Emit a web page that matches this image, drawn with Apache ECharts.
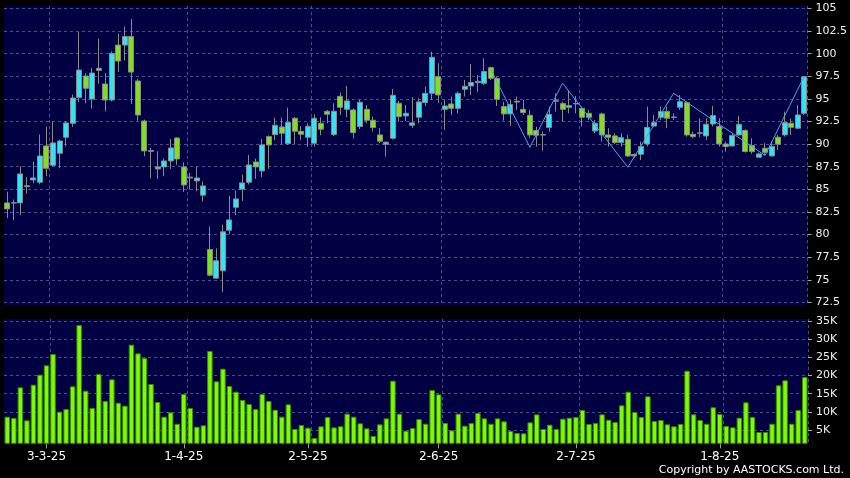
<!DOCTYPE html>
<html>
<head>
<meta charset="utf-8">
<script src="https://cdn.jsdelivr.net/npm/echarts@6/dist/echarts.min.js"></script>
<style>
html,body{margin:0;padding:0;background:#000;}
#c{width:850px;height:478px;}
</style>
</head>
<body>
<div id="c"></div>
<script>
// ---------- data ----------
// HK trading days from 21-2-25 (holidays skipped)
const hkHolidays = ['2025-04-04','2025-04-18','2025-04-21','2025-05-01','2025-05-05','2025-07-01'];
const firstDay = '2025-02-21';
const dayCount = 123;

// [open, close, low, high]
const candles = [
[83.5,82.84,81.81,84.75],[83.48,83.52,81.59,83.87],[83.5,86.7,82.14,87.55],[85.3,85.4,84.53,86.37],[86.04,86.26,85.67,88.03],
[85.78,88.69,85.56,91.05],[89.8,87.33,86.45,91.93],[87.66,90.13,87.55,92.48],[88.99,90.35,87.33,90.5],[90.75,92.34,89.76,92.56],
[92.3,95.1,91.9,95.47],[95.17,98.19,94.62,102.39],[97.53,96.17,94.51,97.86],[94.99,97.86,93.92,98.41],[98.16,98.38,96.68,101.65],
[96.65,94.88,93.63,97.86],[94.88,100.03,94.73,100.25],[100.95,99.19,98.0,102.2],[100.95,101.91,99.26,103.02],[101.91,97.97,94.44,103.83],
[96.98,93.22,92.6,97.2],[92.56,89.25,88.66,92.71],[89.3,89.2,86.23,89.61],[87.48,87.26,86.15,89.21],[87.48,88.14,86.45,88.4],
[88.14,89.58,87.26,90.57],[90.68,88.36,87.7,90.75],[87.48,85.49,84.72,87.99],[86.35,86.25,84.97,86.82],[85.93,86.26,84.79,87.51],
[84.35,85.38,83.65,85.86],[78.35,75.51,75.4,80.89],[75.18,77.1,75.1,78.46],[75.99,80.3,73.63,81.11],[80.48,81.62,80.04,84.31],
[83.02,83.94,82.14,84.86],[85.01,85.71,83.72,86.63],[85.78,87.7,85.53,88.8],[88.03,87.48,86.15,88.4],[87.04,89.91,86.34,90.57],
[90.83,89.91,87.26,90.97],[91.05,92.09,90.46,92.93],[91.9,91.2,89.99,92.93],[90.06,92.42,89.9,94.04],[92.86,91.42,90.02,93.0],
[91.42,91.09,90.46,92.0],[90.76,91.98,89.73,92.31],[90.1,92.86,89.73,93.3],[92.31,91.65,90.98,92.97],[93.63,93.3,92.31,93.78],
[91.05,93.63,90.9,94.52],[95.29,94.07,93.23,95.7],[93.85,94.78,92.97,96.44],[93.78,91.27,90.65,93.96],[91.94,94.63,91.65,94.89],
[93.85,92.64,92.31,94.33],[92.64,91.83,91.39,93.04],[91.02,90.32,90.1,91.79],[89.99,90.21,88.62,90.32],[90.65,95.4,90.5,96.1],
[94.52,93.04,92.49,94.78],[93.12,93.41,92.56,94.33],[92.09,92.35,91.79,95.18],[92.97,94.67,92.31,95.07],[94.59,95.62,94.22,96.36],
[95.62,99.6,94.89,100.23],[97.46,95.44,94.52,98.94],[93.85,94.22,91.57,94.89],[94.44,93.96,93.23,95.26],[93.96,95.62,93.41,95.81],
[96.07,96.4,95.26,97.1],[96.44,96.81,95.44,98.87],[96.8,96.95,95.81,97.65],[96.73,98.02,96.55,99.49],[98.46,97.28,97.1,98.57],
[97.25,94.96,94.22,97.46],[94.15,93.34,92.6,94.7],[93.34,94.37,92.01,94.89],[94.75,94.65,93.78,95.26],[93.85,93.49,93.23,94.89],
[93.19,91.02,90.65,93.78],[91.5,90.98,89.73,91.94],[91.05,91.0,89.29,91.39],[91.83,93.3,91.39,94.15],[94.8,94.75,93.6,95.62],
[94.48,93.85,92.49,94.7],[94.07,94.26,93.41,95.99],[94.5,94.45,93.41,95.33],[93.96,92.97,91.94,94.15],[93.41,92.97,92.67,93.78],
[91.46,92.31,91.2,92.67],[93.34,91.02,90.28,93.49],[91.02,90.76,89.73,91.76],[90.91,90.17,90.02,91.2],[90.17,90.72,89.73,91.2],
[90.54,88.69,88.62,91.02],[88.85,88.7,88.5,89.0],[88.88,89.73,88.25,90.28],[90.02,91.86,89.73,94.15],[92.0,92.38,91.94,93.23],
[92.97,93.6,92.67,94.15],[93.6,92.86,91.76,94.15],[93.0,92.95,92.67,93.41],[94.07,94.7,93.78,95.44],[94.59,91.02,90.83,94.7],
[91.09,90.83,90.65,91.39],[91.25,91.2,90.76,92.86],[90.91,92.2,90.46,92.86],[92.23,93.15,91.94,94.22],[91.94,90.02,89.73,92.86],
[90.02,89.73,89.18,90.28],[89.8,90.94,89.73,91.2],[91.02,92.2,90.91,93.12],[91.5,89.18,89.07,91.65],[89.84,89.18,88.92,90.65],
[88.55,88.92,88.55,89.07],[89.55,89.1,88.8,90.1],[88.7,89.73,88.62,90.28],[90.76,89.99,89.36,91.02],[91.02,92.38,90.83,93.6],
[92.31,91.86,91.02,92.86],[91.76,93.23,91.65,94.33],[93.41,97.46,93.23,97.54]
];

const volumes = [
8660,8300,16750,7670,17470,20220,22800,25900,10040,10780,
17020,33900,15820,11050,20400,12980,18950,12510,11690,28480,
26100,24810,17660,12700,8660,9870,6730,14900,11050,5910,
6290,26740,18400,21870,17110,15540,13260,12160,10780,14900,
12980,10590,8660,12070,5280,6380,5640,2800,6020,8580,
5730,6020,9490,8660,6840,5460,3350,6560,8210,18570,
9490,4810,5550,8030,6730,16000,14820,6930,4900,9490,
6190,6930,9680,8210,6730,8210,7390,4720,4170,4080,
7110,9310,5280,6470,5280,8120,8390,8580,10500,6650,
6930,9310,7830,7200,11790,15540,9950,8580,14270,7480,
7750,6560,6020,6650,21320,9310,7750,6730,11250,9400,
6100,5730,8390,12620,8580,4450,4450,6730,17300,18680,
6730,10500,19590
];

// zigzag vertices: [day index, price]
const zigzag = [[74,98.3],[80,89.65],[85,96.75],[95,87.45],[102,95.62],[116,88.75],[122,97.5]];

const dateTickLabels = ['3-3-25','1-4-25','2-5-25','2-6-25','2-7-25','1-8-25'];
const priceTicks = [72.5,75,77.5,80,82.5,85,87.5,90,92.5,95,97.5,100,102.5,105];
const volumeTicks = [5000,10000,15000,20000,25000,30000,35000];

// ---------- build ----------
function fmt(d){ return d.getUTCDate()+'-'+(d.getUTCMonth()+1)+'-'+String(d.getUTCFullYear()).slice(2); }
const dates = [];
(function(){
  const d = new Date(firstDay+'T00:00:00Z');
  while (dates.length < dayCount) {
    const iso = d.toISOString().slice(0,10);
    const wd = d.getUTCDay();
    if (wd !== 0 && wd !== 6 && hkHolidays.indexOf(iso) < 0) dates.push(fmt(d));
    d.setUTCDate(d.getUTCDate()+1);
  }
})();
const labelIdx = new Set(dateTickLabels.map(t => dates.indexOf(t)));
const gridIdx = new Set([...labelIdx].map(i => i + 1));

const zigData = dates.map(() => null);
zigzag.forEach(p => { zigData[p[0]] = p[1]; });

const gridLine = {color:'#4e4e8c', type:[3,3], width:1};
const chart = echarts.init(document.getElementById('c'), null, {renderer:'canvas'});
chart.setOption({
  animation:false,
  backgroundColor:'#000000',
  textStyle:{fontFamily:'DejaVu Sans'},
  grid:[
    {left:4, right:42, top:6, height:299, show:true, backgroundColor:'#000042', borderWidth:0},
    {left:4, right:42, top:319, height:124.3, show:true, backgroundColor:'#000042', borderWidth:0}
  ],
  xAxis:[
    {type:'category', gridIndex:0, data:dates, boundaryGap:true,
     axisLine:{show:false}, axisTick:{show:false}, axisLabel:{show:false},
     splitLine:{show:true, interval:(i)=>gridIdx.has(i), lineStyle:gridLine}},
    {type:'category', gridIndex:1, data:dates, boundaryGap:true,
     axisLine:{show:false},
     axisTick:{show:true, alignWithLabel:true, interval:(i)=>labelIdx.has(i), length:5, lineStyle:{color:'#9a9a9a'}},
     axisLabel:{show:true, interval:(i)=>labelIdx.has(i), color:'#ffffff', fontSize:12, margin:8},
     splitLine:{show:true, interval:(i)=>gridIdx.has(i), lineStyle:gridLine}}
  ],
  yAxis:[
    {type:'value', gridIndex:0, position:'right', min:72.21, max:105.276,
     axisLine:{show:false},
     axisTick:{show:true, length:4, lineStyle:{color:'#aaaaaa'}, customValues:priceTicks},
     axisLabel:{color:'#f0f0f0', fontSize:11, margin:8, customValues:priceTicks},
     splitLine:{show:true, lineStyle:gridLine}},
    {type:'value', gridIndex:1, position:'right', min:1339, max:35550,
     axisLine:{show:false},
     axisTick:{show:true, length:4, lineStyle:{color:'#aaaaaa'}, customValues:volumeTicks},
     axisLabel:{color:'#f0f0f0', fontSize:11, margin:8, customValues:volumeTicks, formatter:(v)=>(v/1000)+'K'},
     splitLine:{show:true, lineStyle:gridLine}}
  ],
  series:[
    {type:'candlestick', xAxisIndex:0, yAxisIndex:0, data:candles, barWidth:5.5,
     itemStyle:{color:'#33e3f3', color0:'#80e020', borderColor:'#8a8a8a', borderColor0:'#8a8a8a', borderColorDoji:'#8a8a8a', borderWidth:1}},
    {type:'line', xAxisIndex:0, yAxisIndex:0, data:zigData, connectNulls:true, showSymbol:false, symbol:'none',
     lineStyle:{color:'#45a8e6', width:1}, z:5},
    {type:'bar', xAxisIndex:1, yAxisIndex:1, data:volumes, barWidth:'84%',
     itemStyle:{color:'#7cfc00', borderColor:'#3d8a00', borderWidth:1}}
  ],
  graphic:[
    {type:'text', right:6, top:465, style:{text:'Copyright by AASTOCKS.com Ltd.', fill:'#ffffff', font:'11px "DejaVu Sans"'}}
  ]
});
</script>
</body>
</html>
